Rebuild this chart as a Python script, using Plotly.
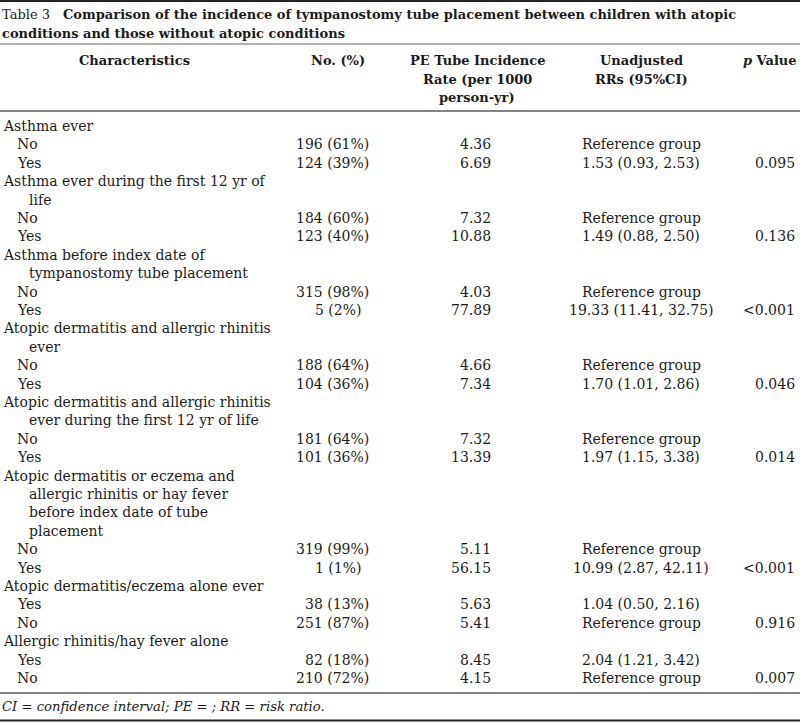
import plotly.graph_objects as go

# ---------------- data ----------------
title_prefix = "Table 3"
title_line1 = "Comparison of the incidence of tympanostomy tube placement between children with atopic"
title_line2 = "conditions and those without atopic conditions"

header_characteristics = "Characteristics"
header_n = "No. (%)"
header_rate = ["PE Tube Incidence", "Rate (per 1000", "person-yr)"]
header_rr = ["Unadjusted", "RRs (95%CI)"]
header_p = "<i>p</i> Value"

row_labels = [
    "Asthma ever", "No", "Yes",
    "Asthma ever during the first 12 yr of", "life", "No", "Yes",
    "Asthma before index date of", "tympanostomy tube placement", "No", "Yes",
    "Atopic dermatitis and allergic rhinitis", "ever", "No", "Yes",
    "Atopic dermatitis and allergic rhinitis", "ever during the first 12 yr of life", "No", "Yes",
    "Atopic dermatitis or eczema and", "allergic rhinitis or hay fever", "before index date of tube", "placement", "No", "Yes",
    "Atopic dermatitis/eczema alone ever", "Yes", "No",
    "Allergic rhinitis/hay fever alone", "Yes", "No",
]
row_level = [0, 1, 1, 0, 2, 1, 1, 0, 2, 1, 1, 0, 2, 1, 1, 0, 2, 1, 1, 0, 2, 2, 2, 1, 1, 0, 1, 1, 0, 1, 1]

counts = [None, 196, 124, None, None, 184, 123, None, None, 315, 5, None, None, 188, 104,
          None, None, 181, 101, None, None, None, None, 319, 1, None, 38, 251, None, 82, 210]
percents = [None, 61, 39, None, None, 60, 40, None, None, 98, 2, None, None, 64, 36,
            None, None, 64, 36, None, None, None, None, 99, 1, None, 13, 87, None, 18, 72]
rates = [None, "4.36", "6.69", None, None, "7.32", "10.88", None, None, "4.03", "77.89", None, None, "4.66", "7.34",
         None, None, "7.32", "13.39", None, None, None, None, "5.11", "56.15", None, "5.63", "5.41", None, "8.45", "4.15"]
rr = [None, "Reference group", "1.53 (0.93, 2.53)", None, None, "Reference group", "1.49 (0.88, 2.50)",
      None, None, "Reference group", "19.33 (11.41, 32.75)", None, None, "Reference group", "1.70 (1.01, 2.86)",
      None, None, "Reference group", "1.97 (1.15, 3.38)", None, None, None, None, "Reference group",
      "10.99 (2.87, 42.11)", None, "1.04 (0.50, 2.16)", "Reference group", None, "2.04 (1.21, 3.42)", "Reference group"]
p_values = [None, None, "0.095", None, None, None, "0.136", None, None, None, "<0.001", None, None, None, "0.046",
            None, None, None, "0.014", None, None, None, None, None, "<0.001", None, None, "0.916", None, None, "0.007"]

footnote = "CI = confidence interval; PE = ; RR = risk ratio."

# ---------------- layout / style ----------------
W, H = 800, 723
FONT = "DejaVu Serif, serif"
FS = 14
FS_TITLE = 13
FS_FOOT = 13.2
TXT = "#1c1c1c"
row_y0, row_dy = 126, 18.4
indent_x = {0: 1, 1: 15, 2: 27}
x_n_right = 371
x_rate_right = 493
x_rr_center = 641
x_p_right = 797

fig = go.Figure()
fig.add_trace(go.Scatter(x=[0, W], y=[0, H], mode="markers", marker=dict(opacity=0), hoverinfo="skip",
                         showlegend=False))

ann = []

def add(text, x, y, xanchor="left", bold=False, italic=False, size=FS, xshift=0):
    if bold:
        text = "<b>" + text + "</b>"
    if italic:
        text = "<i>" + text + "</i>"
    ann.append(dict(text=text, x=x, y=y, xref="x", yref="y", xanchor=xanchor, yanchor="middle",
                    showarrow=False, xshift=xshift, font=dict(family=FONT, size=size, color=TXT)))

# title
add(title_prefix + "\u2003<b>" + title_line1 + "</b>", 0, 14, size=FS_TITLE)
add(title_line2, 0, 33, bold=True, size=FS_TITLE)

# header
hy = [60.5, 79, 97.5]
add(header_characteristics, 134, hy[0], xanchor="center", bold=True, size=FS_TITLE)
add(header_n, 338, hy[0], xanchor="center", bold=True, size=FS_TITLE)
for i, t in enumerate(header_rate):
    add(t, 477, hy[i], xanchor="center", bold=True, size=FS_TITLE)
for i, t in enumerate(header_rr):
    add(t, x_rr_center, hy[i], xanchor="center", bold=True, size=FS_TITLE)
add(header_p, 799, hy[0], xanchor="right", bold=True, size=FS_TITLE)

# body
for i, lab in enumerate(row_labels):
    y = row_y0 + i * row_dy
    add(lab, indent_x[row_level[i]], y)
    if counts[i] is not None:
        shift = -7 if percents[i] < 10 else 0
        add(f"{counts[i]} ({percents[i]}%)", x_n_right, y, xanchor="right", xshift=shift)
    if rates[i] is not None:
        add(rates[i], x_rate_right, y, xanchor="right")
    if rr[i] is not None:
        add(rr[i], x_rr_center, y, xanchor="center")
    if p_values[i] is not None:
        add(p_values[i].replace("<", "&lt;"), x_p_right, y, xanchor="right")

add(footnote, 0, 706, italic=True, size=FS_FOOT)

shapes = []
for y, w, c in [(1, 2, "#222222"), (44, 1.2, "#666666"), (111, 1.5, "#5a5a5a"),
                (693, 1.5, "#5a5a5a"), (720.5, 2.2, "#222222")]:
    shapes.append(dict(type="line", xref="x", yref="y", x0=0, x1=W, y0=y, y1=y,
                       line=dict(color=c, width=w)))

fig.update_layout(
    width=W, height=H, margin=dict(l=0, r=0, t=0, b=0),
    paper_bgcolor="white", plot_bgcolor="white",
    xaxis=dict(range=[0, W], visible=False, fixedrange=True),
    yaxis=dict(range=[H, 0], visible=False, fixedrange=True),
    annotations=ann, shapes=shapes,
)

fig.write_html("out.html", config={"displayModeBar": False},
               post_script="document.body.style.margin='0';document.body.style.overflow='hidden';")
